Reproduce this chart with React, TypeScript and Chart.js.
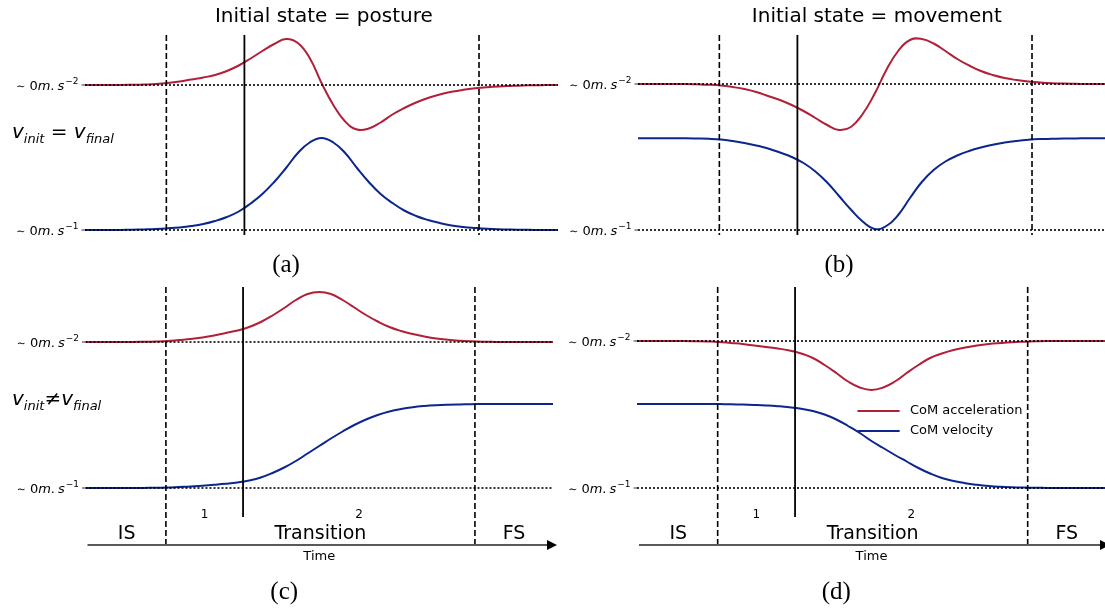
import React, { useEffect, useRef } from "react";
import { Chart, registerables } from "chart.js";

Chart.register(...registerables);

// ---------------- data (arbitrary units, 0 = each signal's "~0" level) ----------------
const time = [0, 2.5, 5, 7.5, 10, 12.5, 15, 17.5, 20, 22.5, 25, 27.5, 30, 32.5, 35, 37.5, 40, 42.5, 45, 47.5, 50, 52.5, 55, 57.5, 60, 62.5, 65, 67.5, 70, 72.5, 75, 77.5, 80, 82.5, 85, 87.5, 90, 92.5, 95, 97.5, 100];

// (a) initial state = posture, v_init = v_final
const accA = [0, 0, 0, 0, 0.2, 0.5, 1, 2, 3.5, 5.5, 7.5, 10, 14, 19.5, 26.5, 34, 41, 46, 42, 27, 2, -20, -36.5, -44.5, -43.5, -37.5, -29.5, -23, -17.5, -13, -9.5, -6.8, -4.8, -3.3, -2.2, -1.4, -0.9, -0.5, -0.3, -0.1, 0];
const velA = [0, 0, 0, 0.1, 0.3, 0.6, 1, 1.7, 2.6, 4, 6, 9, 13, 18.5, 26.5, 36, 48, 62, 77, 87.5, 92, 87.5, 77, 62, 48, 36, 27, 19.5, 14, 10, 7, 4.6, 3, 2, 1.2, 0.7, 0.4, 0.2, 0.1, 0, 0];

// (b) initial state = movement, v_init = v_final
const accB = [0, 0, 0, 0, 0, -0.3, -0.7, -1.5, -3, -5, -8, -12, -16, -21, -27, -34, -41, -46, -43, -30, -10, 14, 33, 44, 45, 40.5, 33, 25, 18.5, 13, 9, 6, 4, 2.5, 1.5, 0.8, 0.4, 0.2, 0, 0, 0];
const velB = [91.7, 91.7, 91.7, 91.7, 91.7, 91.5, 91.2, 90.5, 89, 87, 84.5, 81.5, 77.5, 73, 67, 58.5, 47.5, 34, 20.5, 8.5, 1, 4, 15, 32, 48, 60, 68.5, 74.5, 79, 82.5, 85.3, 87.4, 89, 90.2, 90.9, 91.2, 91.5, 91.6, 91.7, 91.7, 91.7];

// (c) initial state = posture, v_init != v_final
const accC = [0, 0, 0, 0, 0, 0.2, 0.5, 1, 2, 3, 4.5, 6.5, 9, 11.5, 15, 20, 26.5, 34, 42, 48, 50, 48, 42, 34.5, 27, 20.5, 15, 11, 8, 5.5, 3.5, 2.2, 1.3, 0.7, 0.3, 0.1, 0, 0, 0, 0, 0];
const velC = [0, 0, 0, 0, 0, 0.1, 0.2, 0.5, 1, 1.5, 2.3, 3.2, 4.2, 5.5, 7.5, 10.5, 15, 20.5, 27, 34.5, 42, 49.5, 56.5, 63, 68.5, 73, 76.5, 79, 80.8, 82, 82.8, 83.3, 83.6, 83.8, 84, 84, 84, 84, 84, 84, 84];

// (d) initial state = movement, v_init != v_final
const accD = [0, 0, 0, 0, 0, -0.2, -0.5, -1, -2, -3, -4.5, -6, -7.5, -9.5, -12.5, -17, -24, -32, -40.5, -46.5, -49, -46.5, -40.5, -32, -24, -17, -12.5, -9, -6.5, -4.5, -3, -2, -1.2, -0.7, -0.3, 0, 0, 0, 0, 0, 0];
const velD = [84, 84, 84, 84, 84, 84, 84, 83.9, 83.7, 83.4, 83, 82.5, 81.8, 80.8, 79.3, 77, 73.5, 68.5, 62, 55, 47, 40, 33, 26.5, 20, 14.5, 10, 7, 4.8, 3.2, 2, 1.2, 0.7, 0.4, 0.2, 0.1, 0, 0, 0, 0, 0];

// phase boundaries on the time axis: end of IS, split 1|2, start of FS
const phaseBounds = [17.2, 33.7, 83.3];
const phaseLabels = ["IS", "Transition", "FS"];
const subPhaseLabels = ["1", "2"];
const titles = ["Initial state = posture", "Initial state = movement"];
const legendLabels = ["CoM acceleration", "CoM velocity"];
const subLabels = ["(a)", "(b)", "(c)", "(d)"];

const RED = "#b11f38";
const BLUE = "#0b268c";
const SANS = "'DejaVu Sans', sans-serif";

type Part = { t: string; font: string; dy: number; gap?: number };

function drawParts(ctx: CanvasRenderingContext2D, parts: Part[], x: number, y: number, align: "left" | "right") {
  let total = 0;
  const widths = parts.map((p) => {
    ctx.font = p.font;
    const w = ctx.measureText(p.t).width + (p.gap || 0);
    total += w;
    return w;
  });
  let cx = align === "right" ? x - total : x;
  ctx.textAlign = "left";
  ctx.textBaseline = "alphabetic";
  parts.forEach((p, i) => {
    ctx.font = p.font;
    ctx.fillText(p.t, cx, y + p.dy);
    cx += widths[i];
  });
}

function unitLabel(ctx: CanvasRenderingContext2D, xRight: number, y: number, exp: string) {
  const n = "13px " + SANS;
  const it = "italic 13px " + SANS;
  drawParts(
    ctx,
    [
      { t: "\u223C", font: "11px " + SANS, dy: 0, gap: 4 },
      { t: "0", font: n, dy: 0 },
      { t: "m", font: it, dy: 0 },
      { t: ".", font: n, dy: 0, gap: 3 },
      { t: "s", font: it, dy: 0, gap: 1 },
      { t: "\u2212" + exp, font: "9px " + SANS, dy: -5.5 },
    ],
    xRight,
    y + 4.6,
    "right"
  );
}

type PanelCfg = {
  id: string;
  left: number;
  top: number;
  w: number;
  h: number;
  pad: { left: number; right: number; top: number; bottom: number };
  acc: number[];
  vel: number[];
  accRange: [number, number];
  velRange: [number, number];
  title?: string;
  sub: string;
  subY: number;
  annot?: { rel: string; spaced: boolean; x: number; y: number };
  timeAxis: boolean;
  legend: boolean;
};

const panels: PanelCfg[] = [
  { id: "a", left: 0, top: 0, w: 560, h: 290, pad: { left: 85, right: 2, top: 35, bottom: 55 }, acc: accA, vel: velA, accRange: [-150, 50], velRange: [-5, 195], title: titles[0], sub: subLabels[0], subY: 272, annot: { rel: "=", spaced: true, x: 12, y: 137.5 }, timeAxis: false, legend: false },
  { id: "b", left: 560, top: 0, w: 560, h: 290, pad: { left: 78, right: 9, top: 35, bottom: 55 }, acc: accB, vel: velB, accRange: [-151, 49], velRange: [-5, 195], title: titles[1], sub: subLabels[1], subY: 272, timeAxis: false, legend: false },
  { id: "c", left: 0, top: 280, w: 560, h: 328, pad: { left: 85.5, right: 7, top: 7, bottom: 91 }, acc: accC, vel: velC, accRange: [-175, 55], velRange: [-29, 201], sub: subLabels[2], subY: 319, annot: { rel: "\u2260", spaced: false, x: 12, y: 125 }, timeAxis: true, legend: false },
  { id: "d", left: 560, top: 280, w: 560, h: 328, pad: { left: 77, right: 14, top: 7, bottom: 91 }, acc: accD, vel: velD, accRange: [-176, 54], velRange: [-29, 201], sub: subLabels[3], subY: 319, timeAxis: true, legend: true },
];

function makeDecor(cfg: PanelCfg) {
  return {
    id: "decor_" + cfg.id,
    afterDatasetsDraw(chart: any) {
      const ctx: CanvasRenderingContext2D = chart.ctx;
      const { left, right, top, bottom } = chart.chartArea;
      const xs = chart.scales.x;
      const yA0 = chart.scales.yAcc.getPixelForValue(0);
      const yV0 = chart.scales.yVel.getPixelForValue(0);
      const axisY = bottom + 28;
      ctx.save();
      ctx.fillStyle = "#000";

      // dotted "~0" levels
      ctx.strokeStyle = "#000";
      ctx.lineWidth = 1.6;
      ctx.setLineDash([2, 2]);
      [yA0, yV0].forEach((y) => {
        ctx.beginPath();
        ctx.moveTo(left, y);
        ctx.lineTo(right, y);
        ctx.stroke();
      });

      // dashed phase limits
      ctx.setLineDash([6, 3]);
      ctx.lineWidth = 1.6;
      [phaseBounds[0], phaseBounds[2]].forEach((b) => {
        const x = xs.getPixelForValue(b);
        ctx.beginPath();
        ctx.moveTo(x, top);
        ctx.lineTo(x, cfg.timeAxis ? axisY : bottom);
        ctx.stroke();
      });
      // solid split line
      ctx.setLineDash([]);
      ctx.lineWidth = 1.8;
      const xs1 = xs.getPixelForValue(phaseBounds[1]);
      ctx.beginPath();
      ctx.moveTo(xs1, top);
      ctx.lineTo(xs1, bottom);
      ctx.stroke();

      // y ticks + labels
      ctx.lineWidth = 1;
      ctx.strokeStyle = "#333";
      [
        [yA0, "2"],
        [yV0, "1"],
      ].forEach(([y, e]: any) => {
        ctx.beginPath();
        ctx.moveTo(left - 3.5, y);
        ctx.lineTo(left, y);
        ctx.stroke();
        unitLabel(ctx, left - 6.5, y, e);
      });

      // title
      if (cfg.title) {
        ctx.font = "20px " + SANS;
        ctx.textAlign = "center";
        ctx.textBaseline = "alphabetic";
        ctx.fillText(cfg.title, xs.getPixelForValue(50.5), 22);
      }

      // sub-figure label
      ctx.font = "25px 'Liberation Serif', serif";
      ctx.textAlign = "center";
      ctx.textBaseline = "alphabetic";
      ctx.fillText(cfg.sub, xs.getPixelForValue(42.5), cfg.subY);

      // v_init / v_final annotation
      if (cfg.annot) {
        const big = "italic 20px " + SANS;
        const small = "italic 13px " + SANS;
        const parts: Part[] = [
          { t: "v", font: big, dy: 0 },
          { t: "init", font: small, dy: 5 },
          { t: cfg.annot.spaced ? " " + cfg.annot.rel + " " : cfg.annot.rel, font: "20px " + SANS, dy: 0 },
          { t: "v", font: big, dy: 0 },
          { t: "final", font: small, dy: 5 },
        ];
        drawParts(ctx, parts, cfg.annot.x, cfg.annot.y, "left");
      }

      // time axis, phases
      if (cfg.timeAxis) {
        const tip = right + 4;
        ctx.strokeStyle = "#595959";
        ctx.lineWidth = 2;
        ctx.beginPath();
        ctx.moveTo(left + 2, axisY);
        ctx.lineTo(tip - 8, axisY);
        ctx.stroke();
        ctx.fillStyle = "#000";
        ctx.beginPath();
        ctx.moveTo(tip, axisY);
        ctx.lineTo(tip - 10, axisY - 5);
        ctx.lineTo(tip - 10, axisY + 5);
        ctx.closePath();
        ctx.fill();

        const b0 = xs.getPixelForValue(phaseBounds[0]);
        const b1 = xs.getPixelForValue(phaseBounds[1]);
        const b2 = xs.getPixelForValue(phaseBounds[2]);
        ctx.textAlign = "center";
        ctx.font = "19px " + SANS;
        ctx.fillText(phaseLabels[0], (left + 2 + b0) / 2, bottom + 22);
        ctx.fillText(phaseLabels[1], (b0 + b2) / 2, bottom + 22);
        ctx.fillText(phaseLabels[2], (b2 + right) / 2, bottom + 22);
        ctx.font = "12px " + SANS;
        ctx.fillText(subPhaseLabels[0], (b0 + b1) / 2, bottom + 1);
        ctx.fillText(subPhaseLabels[1], (b1 + b2) / 2, bottom + 1);
        ctx.font = "13px " + SANS;
        ctx.fillText("Time", xs.getPixelForValue(50), axisY + 15);
      }

      // legend
      if (cfg.legend) {
        const x0 = xs.getPixelForValue(47);
        const x1 = xs.getPixelForValue(56);
        const xt = xs.getPixelForValue(58.2);
        [
          [RED, legendLabels[0], top + 124],
          [BLUE, legendLabels[1], top + 144],
        ].forEach(([c, label, y]: any) => {
          ctx.strokeStyle = c;
          ctx.lineWidth = 2;
          ctx.beginPath();
          ctx.moveTo(x0, y);
          ctx.lineTo(x1, y);
          ctx.stroke();
          ctx.fillStyle = "#000";
          ctx.font = "13px " + SANS;
          ctx.textAlign = "left";
          ctx.textBaseline = "middle";
          ctx.fillText(label, xt, y);
        });
      }
      ctx.restore();
    },
  };
}

function Panel({ cfg }: { cfg: PanelCfg }) {
  const ref = useRef<HTMLCanvasElement | null>(null);
  useEffect(() => {
    if (!ref.current) return;
    const toXY = (vals: number[]) => time.map((t, i) => ({ x: t, y: vals[i] }));
    const chart = new Chart(ref.current, {
      type: "line",
      data: {
        datasets: [
          { label: legendLabels[0], data: toXY(cfg.acc), yAxisID: "yAcc", borderColor: RED, borderWidth: 2, pointRadius: 0, tension: 0.45, fill: false },
          { label: legendLabels[1], data: toXY(cfg.vel), yAxisID: "yVel", borderColor: BLUE, borderWidth: 2, pointRadius: 0, tension: 0.45, fill: false },
        ],
      },
      options: {
        responsive: false,
        animation: false,
        devicePixelRatio: 1,
        events: [],
        layout: { padding: cfg.pad },
        plugins: { legend: { display: false }, tooltip: { enabled: false }, title: { display: false } },
        scales: {
          x: { type: "linear", min: 0, max: 100, display: false },
          yAcc: { type: "linear", min: cfg.accRange[0], max: cfg.accRange[1], display: false },
          yVel: { type: "linear", min: cfg.velRange[0], max: cfg.velRange[1], display: false },
        },
      } as any,
      plugins: [makeDecor(cfg)],
    });
    return () => chart.destroy();
  }, [cfg]);
  return (
    <canvas
      ref={ref}
      width={cfg.w}
      height={cfg.h}
      style={{ position: "absolute", left: cfg.left, top: cfg.top, width: cfg.w, height: cfg.h }}
    />
  );
}

export default function App() {
  return (
    <div style={{ position: "absolute", left: 0, top: 0, width: 1105, height: 608, overflow: "hidden", background: "#fff" }}>
      {panels.map((p) => (
        <Panel key={p.id} cfg={p} />
      ))}
    </div>
  );
}
